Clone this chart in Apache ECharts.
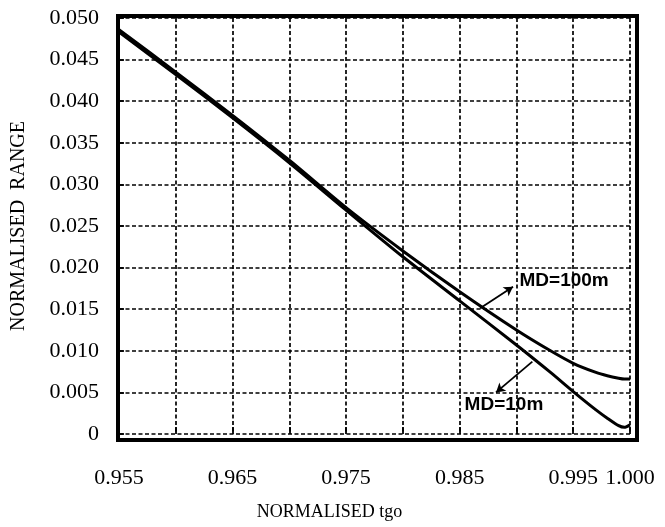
<!DOCTYPE html>
<html>
<head>
<meta charset="utf-8">
<script src="https://cdn.jsdelivr.net/npm/echarts@6/dist/echarts.min.js"></script>
<style>
  html, body { margin: 0; padding: 0; background: #fff; }
  #chart { width: 665px; height: 527px; }
</style>
</head>
<body>
<div id="chart"></div>
<script>
// normalised time-to-go samples
const tgo = [0.955, 0.960, 0.965, 0.970, 0.975, 0.980, 0.985, 0.990, 0.993, 0.995, 0.997, 0.998, 0.999, 0.9995, 1.000];
// normalised range for each miss distance
const rangeMd10 = [0.0483, 0.0432, 0.0380, 0.0326, 0.0269, 0.0213, 0.0160, 0.0107, 0.0074, 0.0051, 0.0029, 0.0019, 0.0010, 0.0008, 0.0011];
const rangeMd100 = [0.0486, 0.0435, 0.0383, 0.0329, 0.0272, 0.0220, 0.0171, 0.0125, 0.0100, 0.0085, 0.0074, 0.0070, 0.0067, 0.0066, 0.0066];

const xTickLabels = ['0.955', '0.965', '0.975', '0.985', '0.995', '1.000'];
const yTickLabels = ['0', '0.005', '0.010', '0.015', '0.020', '0.025', '0.030', '0.035', '0.040', '0.045', '0.050'];

// annotation anchors, in data units: [curve point, arrow tip, label centre]
const md100Note = [[0.9868, 0.0151], [0.9897, 0.0177], [0.9942, 0.0184]];
const md10Note = [[0.9914, 0.0087], [0.9882, 0.0050], [0.9889, 0.0035]];

const chart = echarts.init(document.getElementById('chart'));

const serif = 'Liberation Serif';
const gridDash = { color: '#000', width: 1.7, type: [4, 2.5] };
const tickStyle = { color: '#000', width: 1.8 };

function note(name, pts) {
    return {
        markLine: {
            silent: true,
            symbol: ['none', 'arrow'],
            symbolSize: [8, 9],
            label: { show: false },
            lineStyle: { color: '#000', width: 1.8, type: 'solid' },
            data: [[{ coord: pts[0] }, { coord: pts[1] }]]
        },
        markPoint: {
            silent: true,
            symbol: 'circle',
            symbolSize: 1,
            itemStyle: { color: 'rgba(0,0,0,0)' },
            label: {
                show: true,
                position: 'inside',
                formatter: name,
                fontFamily: 'Liberation Sans',
                fontWeight: 'bold',
                fontSize: 19,
                color: '#000'
            },
            data: [{ coord: pts[2] }]
        }
    };
}

const option = {
    animation: false,
    backgroundColor: '#fff',
    grid: [
        // outer thick frame
        { left: 118, right: 28, top: 16, bottom: 87, show: true, borderColor: '#000', borderWidth: 4, backgroundColor: 'transparent' },
        // data area
        { left: 119, right: 35, top: 18, bottom: 93 }
    ],
    xAxis: [
        { gridIndex: 0, type: 'value', min: 0, max: 1, show: false },
        {
            gridIndex: 1,
            type: 'value',
            min: 0.955,
            max: 1.0,
            interval: 0.005,
            offset: 6,
            name: 'NORMALISED tgo',
            nameLocation: 'middle',
            nameGap: 63,
            nameTextStyle: { fontFamily: serif, fontSize: 18, color: '#000', padding: [0, 90, 0, 0] },
            axisLine: { show: false },
            axisTick: { show: true, inside: true, length: 7, lineStyle: tickStyle },
            axisLabel: {
                margin: 27,
                fontFamily: serif,
                fontSize: 22,
                color: '#000',
                formatter: v => {
                    const s = v.toFixed(3);
                    return xTickLabels.includes(s) ? s : '';
                }
            },
            splitLine: { show: true, lineStyle: gridDash }
        }
    ],
    yAxis: [
        { gridIndex: 0, type: 'value', min: 0, max: 1, show: false },
        {
            gridIndex: 1,
            type: 'value',
            min: 0,
            max: 0.05,
            interval: 0.005,
            name: 'NORMALISED  RANGE',
            nameLocation: 'middle',
            nameGap: 90,
            nameTextStyle: { fontFamily: serif, fontSize: 20, color: '#000' },
            axisLine: { show: false },
            axisTick: { show: true, inside: true, length: 5, lineStyle: tickStyle },
            axisLabel: {
                margin: 20,
                fontFamily: serif,
                fontSize: 22,
                color: '#000',
                formatter: v => yTickLabels[Math.round(v / 0.005)]
            },
            splitLine: { show: true, lineStyle: gridDash }
        }
    ],
    series: [
        Object.assign({
            name: 'MD=10m',
            type: 'line',
            xAxisIndex: 1,
            yAxisIndex: 1,
            showSymbol: false,
            smooth: 0.25,
            lineStyle: { color: '#000', width: 3 },
            data: tgo.map((x, i) => [x, rangeMd10[i]])
        }, note('MD=10m', md10Note)),
        Object.assign({
            name: 'MD=100m',
            type: 'line',
            xAxisIndex: 1,
            yAxisIndex: 1,
            showSymbol: false,
            smooth: 0.25,
            lineStyle: { color: '#000', width: 3 },
            data: tgo.map((x, i) => [x, rangeMd100[i]])
        }, note('MD=100m', md100Note))
    ]
};

chart.setOption(option);
window.addEventListener('resize', () => chart.resize());
</script>
</body>
</html>
